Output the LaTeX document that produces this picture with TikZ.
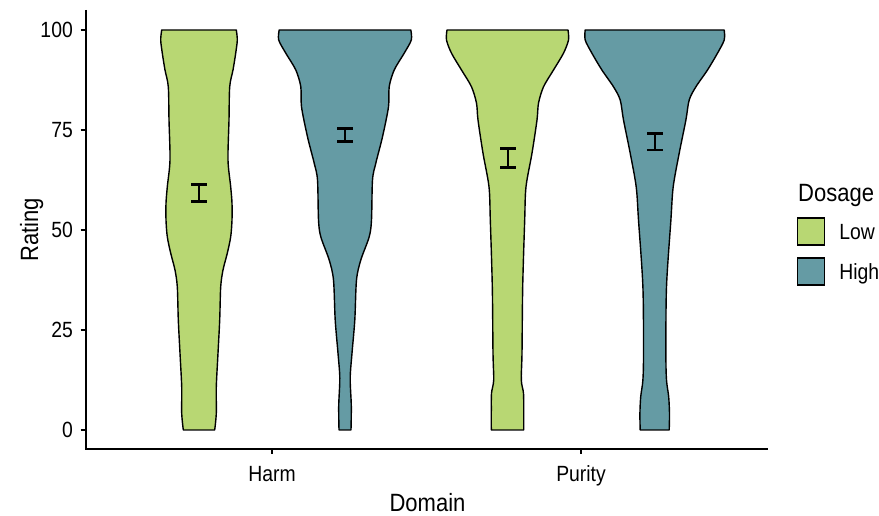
\documentclass[tikz,border=0pt]{standalone}
\usepackage{fontspec}
\setmainfont{Liberation Sans}[FakeStretch=0.88]
\usetikzlibrary{positioning}

\definecolor{lowfill}{RGB}{184,215,115}
\definecolor{highfill}{RGB}{101,155,164}

\begin{document}
\begin{tikzpicture}[x=1pt, y=4pt, node distance=10pt]

\tikzset{
    violin/.style={draw, line width=1.4pt, line join=round},
    errbar/.style={line width=2.8pt},
    axisline/.style={line width=1.8pt},
    ticklabel/.style={inner sep=0pt, font=\fontsize{22}{22}\selectfont},
    legtext/.style={ticklabel, text depth=0pt},
    axistitle/.style={inner sep=0pt, font=\fontsize{25}{25}\selectfont},
    legkey/.style={draw, line width=1.4pt, minimum width=27pt, minimum height=27pt, inner sep=0pt}
}

\useasboundingbox (0,-21.5) rectangle (879,107.5);

% violins
\draw[violin, fill=lowfill, shift={(199,0)}]
  plot[smooth] coordinates {(-15.7,0) (-17.3,4.2) (-17.3,10.8) (-19,19.2) (-20.7,27.5) (-21.7,35.8) (-24,40) (-28.3,44.2) (-31.7,48.3) (-33,52.5) (-33,56.7) (-31.7,60.8) (-29,67.5) (-30,77.5) (-30.7,85.8) (-34,90) (-36.7,94.2) (-38.3,97.5) (-37.3,100)}
  -- plot[smooth] coordinates {(37.3,100) (38.3,97.5) (36.7,94.2) (34,90) (30.7,85.8) (30,77.5) (29,67.5) (31.7,60.8) (33,56.7) (33,52.5) (31.7,48.3) (28.3,44.2) (24,40) (21.7,35.8) (20.7,27.5) (19,19.2) (17.3,10.8) (17.3,4.2) (15.7,0)} -- cycle;

\draw[violin, fill=highfill, shift={(345,0)}]
  plot[smooth] coordinates {(-6,0) (-6.3,6) (-5.2,13) (-7,19.2) (-9.8,27.5) (-11.5,37.5) (-15.8,42.5) (-24.2,48.3) (-26.5,52.5) (-27.5,62.5) (-30.8,66.7) (-37.5,73.3) (-43.5,80.8) (-44.2,85.8) (-49.2,90) (-59.2,94.2) (-66.3,97.5) (-65.8,100)}
  -- plot[smooth] coordinates {(65.8,100) (66.3,97.5) (59.2,94.2) (49.2,90) (44.2,85.8) (43.5,80.8) (37.5,73.3) (30.8,66.7) (27.5,62.5) (26.5,52.5) (24.2,48.3) (15.8,42.5) (11.5,37.5) (9.8,27.5) (7,19.2) (5.2,13) (6.3,6) (6,0)} -- cycle;

\draw[violin, fill=lowfill, shift={(507.5,0)}]
  plot[smooth] coordinates {(-16.2,0) (-16.2,5) (-16,9.2) (-13.8,12.5) (-14.5,19.2) (-15.2,35.8) (-17.2,52.5) (-18.5,60.8) (-24.5,69.2) (-29.5,77.5) (-31,81.7) (-36,85.8) (-46,90) (-56,94.2) (-61,97.5) (-60.5,100)}
  -- plot[smooth] coordinates {(60.5,100) (61,97.5) (56,94.2) (46,90) (36,85.8) (31,81.7) (29.5,77.5) (24.5,69.2) (18.5,60.8) (17.2,52.5) (15.2,35.8) (14.5,19.2) (13.8,12.5) (16,9.2) (16.2,5) (16.2,0)} -- cycle;

\draw[violin, fill=highfill, shift={(654.7,0)}]
  plot[smooth] coordinates {(-14.5,0) (-14.8,4) (-14,8.3) (-11.8,12.5) (-11.2,19.2) (-11.8,35.8) (-16.2,52.5) (-18.5,60.8) (-24.5,69.2) (-31.2,77.5) (-34.5,82.5) (-41.2,85.8) (-52.8,90) (-62.8,94.2) (-69.5,97.5) (-69.5,100)}
  -- plot[smooth] coordinates {(69.5,100) (69.5,97.5) (62.8,94.2) (52.8,90) (41.2,85.8) (34.5,82.5) (31.2,77.5) (24.5,69.2) (18.5,60.8) (16.2,52.5) (11.8,35.8) (11.2,19.2) (11.8,12.5) (14,8.3) (14.8,4) (14.5,0)} -- cycle;

% error bars
\foreach \cx/\lo/\hi in {199/57.2/61.3, 345/72.2/75.45, 508/65.7/70.3, 655/70/74.2}{
  \draw[errbar] (\cx-8,\lo) -- (\cx+8,\lo) (\cx,\lo) -- (\cx,\hi) (\cx-8,\hi) -- (\cx+8,\hi);
}

% axes
\coordinate (ytop) at (86,105);
\coordinate (origin) at (86,-4.75);
\coordinate (xend) at (768,-4.75);
\draw[axisline] (ytop) -- (origin) -- (xend);

\foreach \r in {0,25,...,100}{
  \draw[axisline] (80.5,\r) -- (86,\r);
  \node[ticklabel, anchor=east] (ytick\r) at (73,\r) {\r};
}

\draw[axisline] (272,-4.75) -- (272,-6.1);
\draw[axisline] (581,-4.75) -- (581,-6.1);
\node[ticklabel, anchor=base] (harm) at (272,-12.9) {Harm};
\node[ticklabel, anchor=base] (purity) at (581,-12.9) {Purity};

\node[axistitle, anchor=base] (domain) at (427.5,-20.3) {Domain};
\node[axistitle, anchor=base, rotate=90] (rating) at (38,50.1) {Rating};

% legend
\node[axistitle, anchor=base west] (dosage) at (798,57.1) {Dosage};
\node[legkey, fill=lowfill] (lowkey) at (811,49.6) {};
\node[legkey, fill=highfill, below=11.5pt of lowkey] (highkey) {};
\node[legtext, right=14pt of lowkey] (lowlabel) {Low};
\node[legtext, right=14pt of highkey] (highlabel) {High};
    %
\end{tikzpicture}
\end{document}
